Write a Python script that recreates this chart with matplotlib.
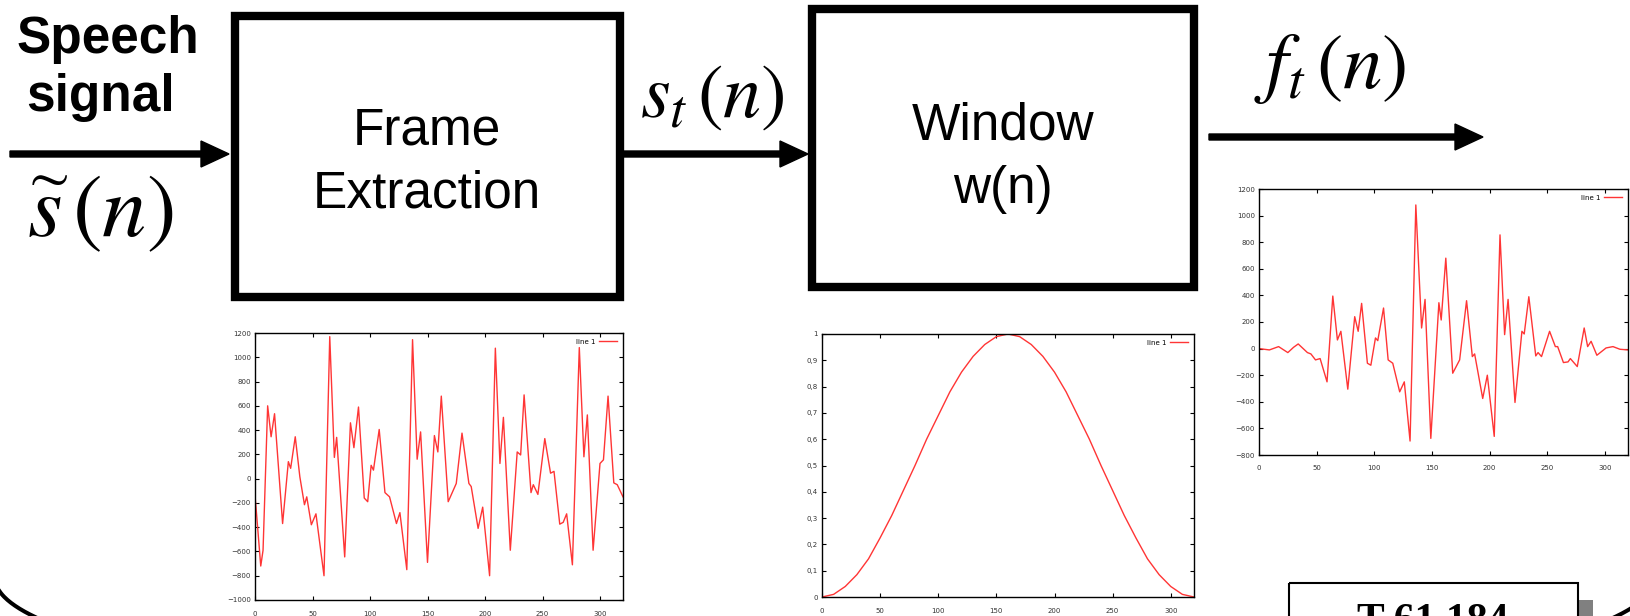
import matplotlib
matplotlib.use('Agg')
import matplotlib.pyplot as plt
from matplotlib.patches import Rectangle
import numpy as np

plt.rcParams['mathtext.fontset'] = 'stix'

# s_t(n): one speech frame
frame_n = [0, 1, 5, 7, 11, 14, 17, 24, 29, 31, 35, 39, 43, 45, 49, 53, 60, 65, 69, 71,
           78, 83, 86, 90, 95, 98, 101, 103, 108, 113, 117, 123, 126, 132, 137, 141, 144, 150, 156, 159,
           162, 168, 175, 180, 186, 188, 194, 198, 204, 209, 213, 216, 222, 228, 231, 234, 240, 242, 246, 252,
           257, 260, 265, 268, 271, 276, 282, 286, 289, 294, 300, 303, 307, 312, 315, 320]
frame_v = [-140, -250, -720, -590, 600, 345, 535, -370, 140, 85, 345, 15, -215, -150, -380, -290, -800, 1170, 175, 340,
           -645, 460, 255, 590, -160, -190, 110, 70, 405, -115, -150, -370, -280, -750, 1145, 160, 385, -690, 355, 220,
           680, -190, -40, 375, -40, -65, -410, -235, -800, 1075, 125, 505, -590, 220, 195, 690, -115, -50, -130, 330,
           45, 60, -375, -360, -290, -710, 1080, 180, 525, -590, 125, 155, 680, -35, -50, -150]

# w(n): the window, read every 10 samples
win_n = [0, 10, 20, 30, 40, 50, 60, 70, 80, 90, 100, 110, 120, 130, 140, 150, 160,
         170, 180, 190, 200, 210, 220, 230, 240, 250, 260, 270, 280, 290, 300, 310, 320]
win_v = [0, 0.01, 0.04, 0.085, 0.145, 0.225, 0.31, 0.405, 0.5, 0.6, 0.69, 0.78, 0.855, 0.915, 0.96, 0.99, 1.0,
         0.99, 0.96, 0.915, 0.855, 0.78, 0.69, 0.6, 0.5, 0.405, 0.31, 0.225, 0.145, 0.085, 0.04, 0.01, 0]

# f_t(n): windowed frame
fw_n = [0, 9, 17, 25, 30, 34, 42, 45, 49, 53, 59, 64, 68, 71, 77, 83, 86, 89, 94, 97,
        101, 103, 108, 112, 116, 122, 126, 131, 136, 141, 144, 149, 156, 158, 162, 168, 174, 180, 185, 187,
        194, 198, 204, 209, 213, 216, 222, 228, 230, 234, 240, 242, 245, 252, 257, 259, 264, 268, 270, 276,
        282, 285, 288, 293, 301, 307, 313, 320]
fw_v = [0, -10, 15, -30, 10, 35, -30, -40, -85, -75, -250, 395, 65, 130, -305, 240, 130, 340, -110, -125,
        80, 60, 305, -85, -110, -325, -250, -695, 1080, 155, 370, -675, 345, 215, 680, -185, -85, 360, -60, -40,
        -375, -200, -660, 855, 105, 370, -405, 130, 110, 390, -55, -30, -60, 130, 15, 15, -105, -100, -75, -135,
        155, 15, 55, -50, 5, 15, -5, -10]

x_ticks = [0, 50, 100, 150, 200, 250, 300]
frame_yticks = [-1000, -800, -600, -400, -200, 0, 200, 400, 600, 800, 1000, 1200]
win_yticks = [0, 0.1, 0.2, 0.3, 0.4, 0.5, 0.6, 0.7, 0.8, 0.9, 1]
win_ylabels = ['0', '0,1', '0,2', '0,3', '0,4', '0,5', '0,6', '0,7', '0,8', '0,9', '1']
fw_yticks = [-800, -600, -400, -200, 0, 200, 400, 600, 800, 1000, 1200]

W, H = 1630, 616
fig = plt.figure(figsize=(W / 100, H / 100), dpi=100)

# background layer in pixel coordinates (y down)
bg = fig.add_axes([0, 0, 1, 1])
bg.set_xlim(0, W)
bg.set_ylim(H, 0)
bg.axis('off')


def px_rect(x0, y0, x1, y1):
    return [x0 / W, 1 - y1 / H, (x1 - x0) / W, (y1 - y0) / H]


def gnuplot(rect, n, v, yticks, ylim, ylabels=None, xpad=8):
    ax = fig.add_axes(px_rect(*rect))
    ax.set_zorder(2)
    ax.plot(n, v, color='#ff3535', lw=1.0, label='line 1')
    ax.set_xlim(0, 320)
    ax.set_ylim(*ylim)
    ax.set_xticks(x_ticks)
    ax.set_yticks(yticks)
    if ylabels is not None:
        ax.set_yticklabels(ylabels)
    ax.tick_params(direction='in', length=3, width=0.8, top=True, right=True,
                   labelsize=5, labelcolor='#333333')
    ax.tick_params(axis='x', pad=xpad)
    ax.tick_params(axis='y', pad=3)
    for s in ax.spines.values():
        s.set_linewidth(1.0)
    ax.legend(loc='upper right', frameon=False, fontsize=5, handlelength=2.6,
              markerfirst=False, borderaxespad=0.4, handletextpad=0.5)
    return ax


gnuplot((255, 333, 623, 600), frame_n, frame_v, frame_yticks, (-1000, 1200))
gnuplot((822, 334, 1194, 597), win_n, win_v, win_yticks, (0, 1), win_ylabels)
gnuplot((1259, 189, 1628, 455), fw_n, fw_v, fw_yticks, (-800, 1200), xpad=7)

# blocks
bg.add_patch(Rectangle((235, 16), 385, 281, fill=False, lw=6, edgecolor='black'))
bg.add_patch(Rectangle((812, 9), 382, 278, fill=False, lw=6, edgecolor='black'))

# arrows
for x0, x1, y in [(10, 229, 154), (624, 808, 154), (1209, 1483, 137)]:
    bg.arrow(x0, y, x1 - x0, 0, width=6, head_width=26, head_length=28,
             length_includes_head=True, color='black')

sans = 'Liberation Sans'
bg.text(108, 53, 'Speech', fontsize=37, fontweight='bold', family=sans, ha='center', va='baseline')
bg.text(101, 111, 'signal', fontsize=37, fontweight='bold', family=sans, ha='center', va='baseline')
bg.text(427, 131, 'Frame', fontsize=37, family=sans, ha='center', va='center')
bg.text(427, 194, 'Extraction', fontsize=37, family=sans, ha='center', va='center')
bg.text(1003, 126, 'Window', fontsize=37, family=sans, ha='center', va='center')
bg.text(1003, 190, 'w(n)', fontsize=37, family=sans, ha='center', va='center')

bg.text(100, 212, r'$\widetilde{s}\,(n)$', fontsize=64, ha='center', va='center')
bg.text(712, 96, r'$s_t\,(n)$', fontsize=55, ha='center', va='center')
bg.text(1330, 68, r'$f_t\,(n)$', fontsize=57, ha='center', va='center')

# bits of the slide frame at the bottom: one big ellipse, only its lower corners show
theta = np.linspace(0, np.pi, 400)
bg.plot(825 + 830 * np.cos(theta), 578 + 127 * np.sin(theta), color='black', lw=2.9)
bg.add_patch(Rectangle((1579, 600), 14, 30, color='#808080', lw=0))
bg.add_patch(Rectangle((1289, 583), 289, 60, fill=False, lw=1.5, edgecolor='black', zorder=3))
bg.text(1433, 603, 'T-61.184', fontsize=30, fontweight='bold', family='Liberation Serif',
        ha='center', va='top')

fig.savefig('out.png', dpi=100)
